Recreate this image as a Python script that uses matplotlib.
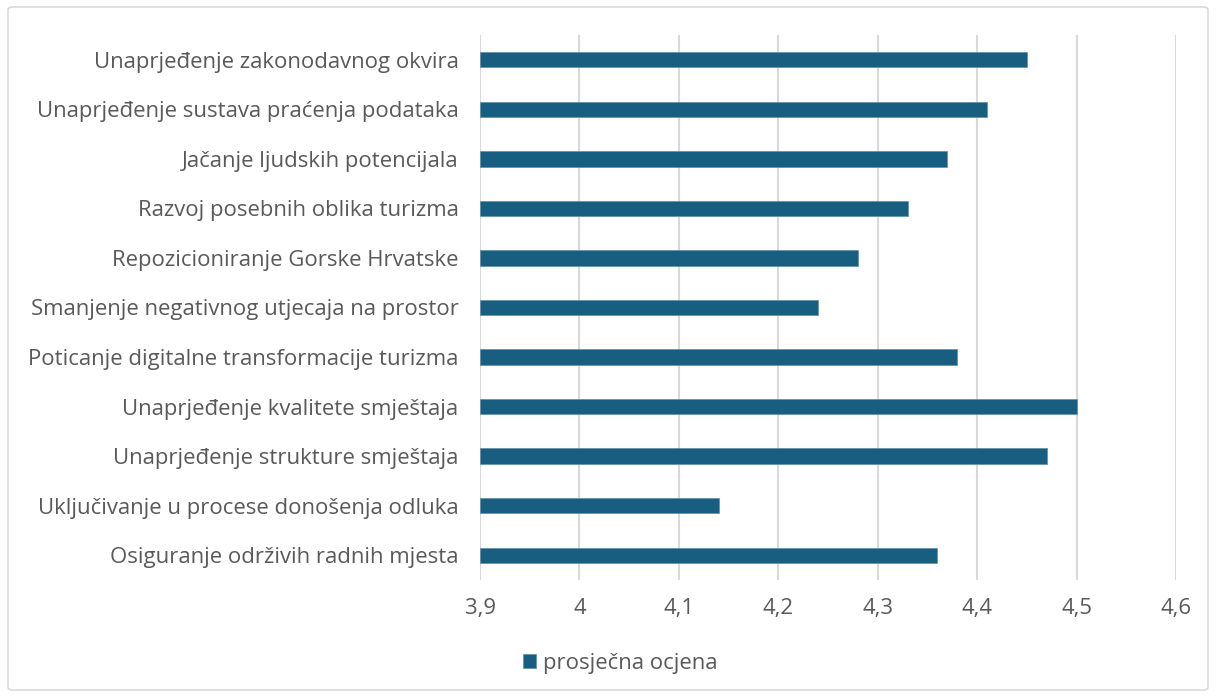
import matplotlib
matplotlib.use("Agg")
import matplotlib.pyplot as plt
from matplotlib.patches import FancyBboxPatch

categories = [
    "Unaprjeđenje zakonodavnog okvira",
    "Unaprjeđenje sustava praćenja podataka",
    "Jačanje ljudskih potencijala",
    "Razvoj posebnih oblika turizma",
    "Repozicioniranje Gorske Hrvatske",
    "Smanjenje negativnog utjecaja na prostor",
    "Poticanje digitalne transformacije turizma",
    "Unaprjeđenje kvalitete smještaja",
    "Unaprjeđenje strukture smještaja",
    "Uključivanje u procese donošenja odluka",
    "Osiguranje održivih radnih mjesta",
]
values = [4.45, 4.41, 4.37, 4.33, 4.28, 4.24, 4.38, 4.50, 4.47, 4.14, 4.36]
xticks = [3.9, 4.0, 4.1, 4.2, 4.3, 4.4, 4.5, 4.6]
xticklabels = ["3,9", "4", "4,1", "4,2", "4,3", "4,4", "4,5", "4,6"]
series_name = "prosječna ocjena"

plt.rcParams['font.family'] = ['Open Sans', 'DejaVu Sans']
TXT = "#595959"
BAR = "#175E80"
FS = 15.9

fig = plt.figure(figsize=(12.16, 6.97), dpi=100)
fig.patch.set_facecolor("white")
border = FancyBboxPatch((8/1216, 7/697), 1200/1216, 683/697,
                        boxstyle="round,pad=0,rounding_size=0.004",
                        transform=fig.transFigure, fill=False,
                        edgecolor="#d9d9d9", linewidth=1.2)
fig.patches.append(border)

ax = fig.add_axes([480/1216, 1 - 580/697, 696/1216, 545/697])
y = list(range(len(categories)))
base = xticks[0]
ax.barh(y, [v - base for v in values], left=base, height=0.31,
        color=BAR, edgecolor="#5e8fa8", linewidth=0.5, label=series_name, zorder=3)
ax.set_ylim(len(categories) - 0.5, -0.5)
ax.set_xlim(xticks[0], xticks[-1])
ax.set_xticks(xticks)
ax.set_xticklabels(xticklabels)
ax.set_yticks(y)
ax.set_yticklabels(categories)
ax.tick_params(axis='both', length=0, colors=TXT, labelsize=FS)
ax.tick_params(axis='y', pad=15.5)
ax.tick_params(axis='x', pad=13)
for s in ax.spines.values():
    s.set_visible(False)
ax.grid(axis='x', color="#d9d9d9", linewidth=1.5, zorder=0)
ax.set_axisbelow(True)

leg = fig.legend(loc='center', bbox_to_anchor=(620/1216, 1 - 663/697), frameon=False,
                 fontsize=FS, handlelength=0.6, handleheight=0.6, handletextpad=0.3)
for t in leg.get_texts():
    t.set_color(TXT)

fig.savefig("out.png", dpi=100, facecolor="white")
